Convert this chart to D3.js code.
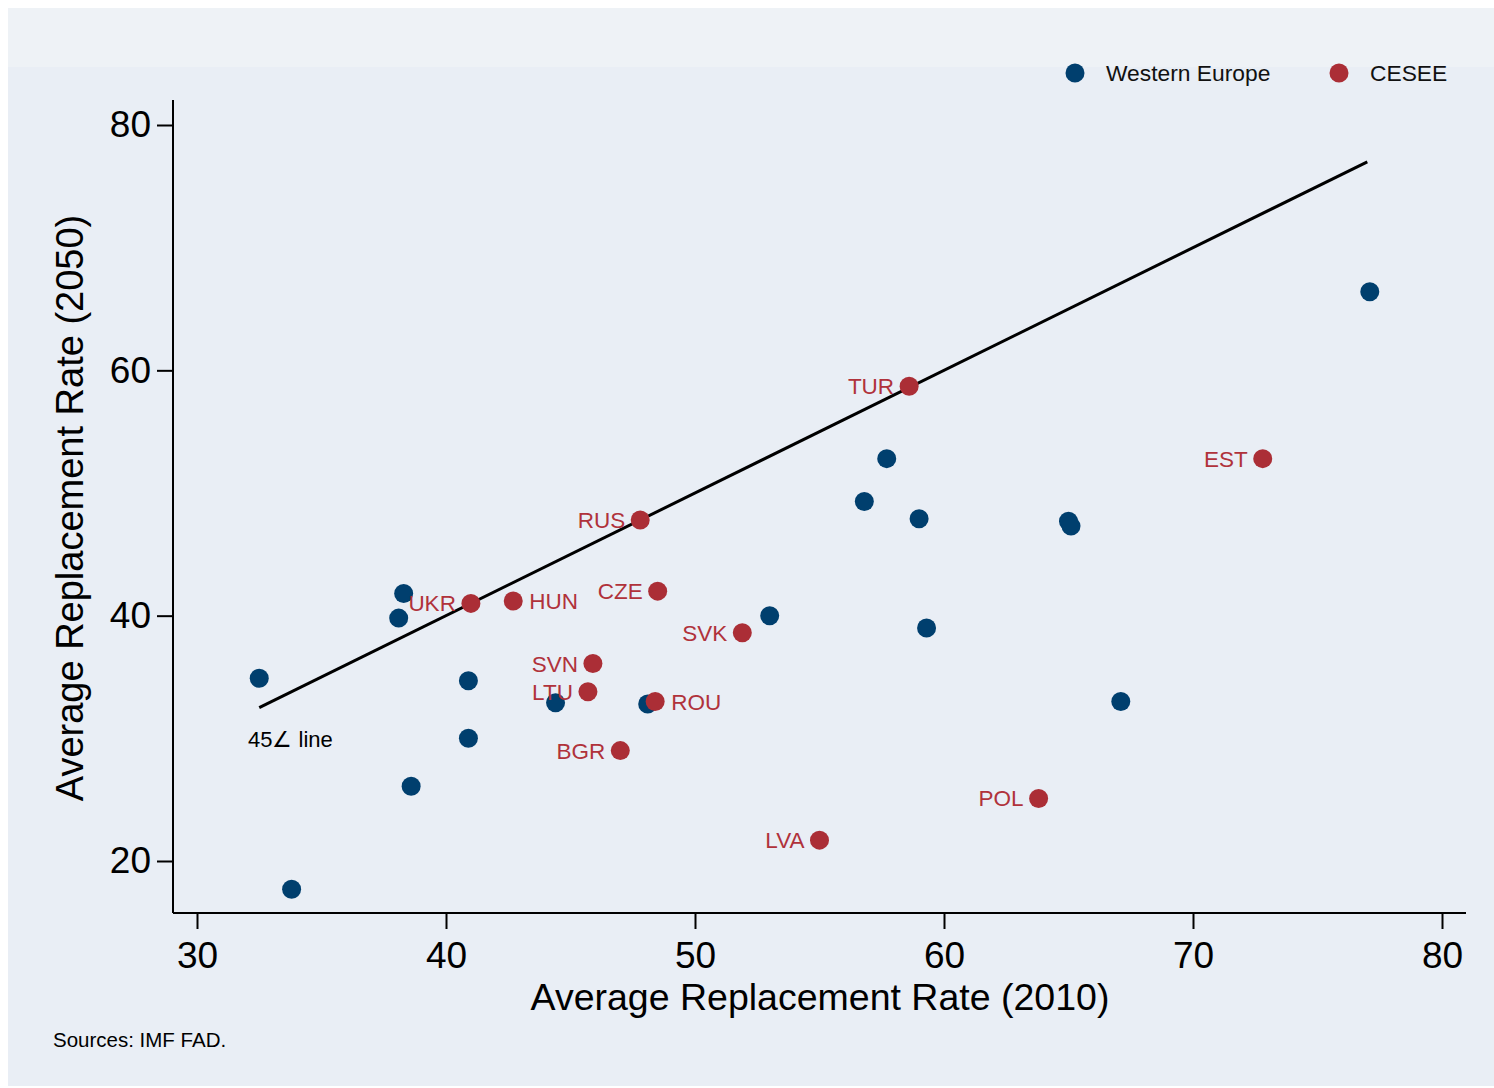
<!DOCTYPE html>
<html><head><meta charset="utf-8">
<script src="https://cdn.jsdelivr.net/npm/d3@7"></script>
<style>body{margin:0;background:#fff}svg{display:block;font-family:"Liberation Sans",Arial,sans-serif}</style>
</head><body><svg id="c" width="1494" height="1088"></svg>
<script>
// Western Europe points [x2010, y2050]
const westX = [32.5, 33.8, 38.3, 38.1, 38.6, 40.9, 40.9, 44.4, 48.1, 53.0, 56.8, 57.7, 59.0, 59.3, 65.0, 65.1, 67.1, 77.1];
const westY = [34.9, 17.7, 41.8, 39.8, 26.1, 34.7, 30.0, 32.9, 32.8, 40.0, 49.3, 52.8, 47.9, 39.0, 47.7, 47.3, 33.0, 66.4];
// CESEE points
const ceseeNames = ["TUR","EST","RUS","UKR","HUN","CZE","SVK","SVN","LTU","ROU","BGR","POL","LVA"];
const ceseeX = [58.6, 72.8, 47.8, 41.0, 42.7, 48.5, 51.9, 45.9, 45.7, 48.4, 47.0, 63.8, 55.0];
const ceseeY = [58.7, 52.8, 47.8, 41.0, 41.2, 42.0, 38.6, 36.1, 33.8, 33.0, 29.0, 25.1, 21.7];
const ceseeLabelSide = ["left","left","left","left","right","left","left","left","left","right","left","left","left"];
const xTicks = [30, 40, 50, 60, 70, 80];
const yTicks = [20, 40, 60, 80];
const lineRange = [32.5, 77];
const seriesNames = ["Western Europe", "CESEE"];
const colors = {west: "#003f6e", cesee: "#ab2e36"};

const svg = d3.select("#c");
svg.append("rect").attr("x",8).attr("y",8).attr("width",1486).attr("height",1078).attr("fill","#e9eef5");
svg.append("rect").attr("x",8).attr("y",8).attr("width",1486).attr("height",59).attr("fill","#eef2f6");

const x = d3.scaleLinear().domain([30,80]).range([197,1442]);
const y = d3.scaleLinear().domain([20,80]).range([861,125]);

// axes
const xAxis = svg.append("g").attr("transform","translate(0,913)")
  .call(d3.axisBottom(x).tickValues(xTicks).tickSize(16).tickPadding(13).tickFormat(d3.format("d")));
xAxis.select(".domain").attr("d","M173,0H1466").attr("stroke","#000").attr("stroke-width",2);
xAxis.selectAll(".tick line").attr("stroke","#000").attr("stroke-width",2);
xAxis.selectAll(".tick text").attr("font-size",37).attr("fill","#000").attr("font-family","Liberation Sans, Arial, sans-serif");

const yAxis = svg.append("g").attr("transform","translate(173,0)")
  .call(d3.axisLeft(y).tickValues(yTicks).tickSize(16).tickPadding(6).tickFormat(d3.format("d")));
yAxis.select(".domain").attr("d","M0,100V913").attr("stroke","#000").attr("stroke-width",2);
yAxis.selectAll(".tick line").attr("stroke","#000").attr("stroke-width",2);
yAxis.selectAll(".tick text").attr("font-size",37).attr("fill","#000").attr("font-family","Liberation Sans, Arial, sans-serif");

// axis titles
svg.append("text").attr("x",820).attr("y",1010).attr("text-anchor","middle").attr("font-size",37.5).text("Average Replacement Rate (2010)");
svg.append("text").attr("transform","translate(83,508) rotate(-90)").attr("text-anchor","middle").attr("font-size",38).text("Average Replacement Rate (2050)");

// 45 degree line
svg.append("line").attr("x1",x(lineRange[0])).attr("y1",y(lineRange[0])).attr("x2",x(lineRange[1])).attr("y2",y(lineRange[1]))
  .attr("stroke","#000").attr("stroke-width",3);
svg.append("text").attr("x",248).attr("y",747).attr("font-size",22).attr("fill","#000").text("45\u2220 line");

// points
const west = westX.map((v,i)=>({x:v,y:westY[i]}));
svg.append("g").selectAll("circle").data(west).join("circle")
  .attr("cx",d=>x(d.x)).attr("cy",d=>y(d.y)).attr("r",9.5).attr("fill",colors.west);

const cesee = ceseeNames.map((n,i)=>({name:n,x:ceseeX[i],y:ceseeY[i],side:ceseeLabelSide[i]}));
const cg = svg.append("g");
cg.selectAll("circle").data(cesee).join("circle")
  .attr("cx",d=>x(d.x)).attr("cy",d=>y(d.y)).attr("r",9.5).attr("fill",colors.cesee);
cg.selectAll("text").data(cesee).join("text")
  .attr("x",d=>d.side==="left"? x(d.x)-15 : x(d.x)+16)
  .attr("y",d=>y(d.y)+8)
  .attr("text-anchor",d=>d.side==="left"?"end":"start")
  .attr("font-size",22.5).attr("fill","#b0323b").text(d=>d.name);

// legend
const leg = svg.append("g");
leg.append("circle").attr("cx",1075).attr("cy",73).attr("r",9.5).attr("fill",colors.west);
leg.append("text").attr("x",1106).attr("y",81).attr("font-size",22.8).attr("fill","#111").text(seriesNames[0]);
leg.append("circle").attr("cx",1339).attr("cy",73).attr("r",9.5).attr("fill",colors.cesee);
leg.append("text").attr("x",1370).attr("y",81).attr("font-size",22.8).attr("fill","#111").text(seriesNames[1]);

svg.append("text").attr("x",53).attr("y",1047).attr("font-size",20.5).attr("fill","#000").text("Sources: IMF FAD.");
</script></body></html>
